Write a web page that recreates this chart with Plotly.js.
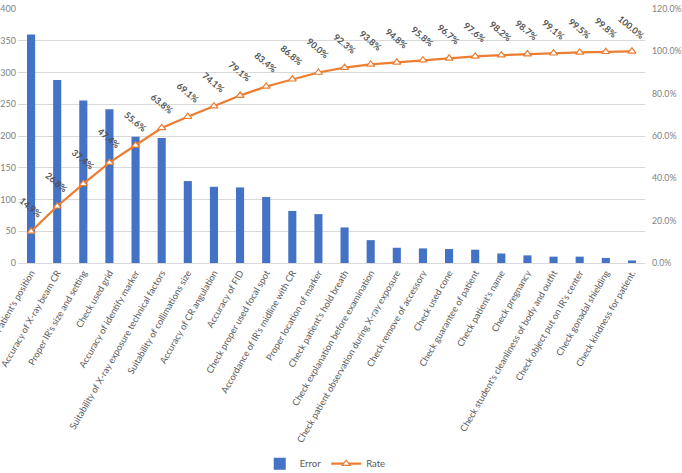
<!DOCTYPE html>
<html><head><meta charset="utf-8">
<script src="https://cdn.plot.ly/plotly-3.0.1.min.js"></script>
<style>
html,body{margin:0;padding:0;width:682px;height:473px;overflow:hidden;background:#fff;}
#chart{position:absolute;left:0;top:0;width:682px;height:473px;}
</style></head>
<body><div id="chart"></div>
<script>
const categories = [
  "Patient's position",
  "Accuracy of X-ray beam CR",
  "Proper IR's size and setting",
  "Check used grid",
  "Accuracy of identify marker",
  "Suitability of X-ray exposure technical factors",
  "Suitability of collimations size",
  "Accuracy of CR angulation",
  "Accuracy of FID",
  "Check proper used focal spot",
  "Accordance of IR's midline with CR",
  "Proper location of marker",
  "Check patient's hold breath",
  "Check explanation before examination",
  "Check patient observation during X-ray exposure",
  "Check remove of accessory",
  "Check used cone",
  "Check guarantee of patient",
  "Check patient's name",
  "Check pregnancy",
  "Check student's cleanliness of body and outfit",
  "Check object put on IR's center",
  "Check gonadal shielding",
  "Check kindness for patient."
];
const errorValues = [360, 288, 256, 242, 199, 197, 129, 120, 119, 104, 82, 77, 56, 36, 24, 23, 22, 21, 15, 12, 10, 10, 8, 4];
const rateValues = [14.9, 26.8, 37.4, 47.4, 55.6, 63.8, 69.1, 74.1, 79.1, 83.4, 86.8, 90.0, 92.3, 93.8, 94.8, 95.8, 96.7, 97.6, 98.2, 98.7, 99.1, 99.5, 99.8, 100.0];

const FONT = "Lato, 'Liberation Sans', sans-serif";

const traces = [
  {
    type: 'bar', name: 'Error', x: categories, y: errorValues,
    marker: {color: '#4472C4'}, yaxis: 'y'
  },
  {
    type: 'scatter', mode: 'lines+markers', name: 'Rate', x: categories, y: rateValues,
    yaxis: 'y2',
    line: {color: '#ED7D31', width: 2.25},
    marker: {symbol: 'triangle-up', size: 7, color: '#FFFFFF', line: {color: '#ED7D31', width: 1.2}}
  }
];

const annotations = categories.map((c, i) => ({
  x: c, y: rateValues[i], xref: 'x', yref: 'y2',
  text: rateValues[i].toFixed(1) + '%',
  showarrow: false, yshift: 24, textangle: 40,
  font: {family: FONT, size: 9, color: '#505050', weight: 'bold'}
}));

const layout = {
  width: 682, height: 473,
  margin: {l: 18, r: 37, t: 9, b: 210, autoexpand: false},
  paper_bgcolor: '#FFFFFF', plot_bgcolor: '#FFFFFF',
  font: {family: FONT, size: 9, color: '#595959'},
  bargap: 0.69,
  showlegend: true,
  legend: {orientation: 'h', x: 0.49, xanchor: 'center', y: -0.79, yanchor: 'middle',
           bgcolor: 'rgba(0,0,0,0)',
           font: {family: FONT, size: 9.5, color: '#595959'}},
  xaxis: {
    type: 'category', tickangle: -60, showgrid: false, range: [-0.5, categories.length - 0.5],
    autorange: false,
    showline: true, linecolor: '#D9D9D9', linewidth: 1, ticks: '',
    tickfont: {family: FONT, size: 9.2, color: '#595959'}, automargin: false
  },
  yaxis: {
    range: [0, 400], dtick: 50, showgrid: true, gridcolor: '#D9D9D9', gridwidth: 1,
    zeroline: false, ticks: '', ticklabelstandoff: 1,
    tickfont: {family: FONT, size: 9, color: '#7F7F7F'}, automargin: false
  },
  yaxis2: {
    overlaying: 'y', side: 'right', range: [0, 120], dtick: 20,
    tickformat: '.1f', ticksuffix: '%', showgrid: false, zeroline: false, ticks: '',
    ticklabelstandoff: 6,
    tickfont: {family: FONT, size: 8.8, color: '#7F7F7F'}, automargin: false
  },
  annotations: annotations
};

Plotly.newPlot('chart', traces, layout, {displayModeBar: false, staticPlot: true});
</script>
</body></html>
